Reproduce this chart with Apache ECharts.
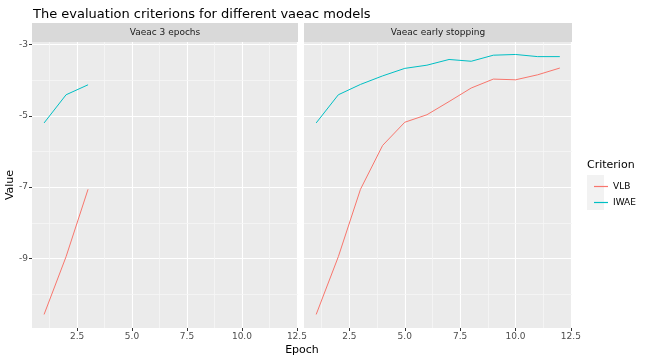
<!DOCTYPE html>
<html><head><meta charset="utf-8">
<script src="https://cdn.jsdelivr.net/npm/echarts@6/dist/echarts.min.js"></script>
<style>html,body{margin:0;padding:0;background:#fff}#c{width:648px;height:360px}</style>
</head><body><div id="c"></div>
<script>
// ---- data ----
const panelNames = ['Vaeac 3 epochs', 'Vaeac early stopping'];
const criteria = ['VLB', 'IWAE'];
const epochs3 = [1, 2, 3];
const vlb3 = [-10.57, -8.95, -7.06];
const iwae3 = [-5.2, -4.41, -4.13];
const epochsES = [1, 2, 3, 4, 5, 6, 7, 8, 9, 10, 11, 12];
const vlbES = [-10.57, -8.95, -7.06, -5.83, -5.18, -4.97, -4.6, -4.22, -3.97, -3.99, -3.85, -3.66];
const iwaeES = [-5.2, -4.41, -4.12, -3.88, -3.67, -3.58, -3.42, -3.47, -3.30, -3.28, -3.34, -3.34];
const xTicks = [2.5, 5.0, 7.5, 10.0, 12.5];
const xMinor = [1.25, 3.75, 6.25, 8.75, 11.25];
const yTicks = [-9, -7, -5, -3];
const yMinor = [-10, -8, -6, -4];
const colors = ['#F8766D', '#00BFC4'];

const FONT = 'DejaVu Sans';
const xRange = [0.45, 12.55];
const yRange = [-10.95, -2.93];
const grids = [
  {left: 32, top: 42, width: 266, height: 286},
  {left: 304, top: 42, width: 268, height: 286}
];
const pair = (xs, ys) => xs.map((x, i) => [x, ys[i]]);

function xAxis(i) {
  return {
    type: 'value', gridIndex: i, min: xRange[0], max: xRange[1],
    axisLine: {show: false},
    axisTick: {show: true, length: 3, lineStyle: {color: '#333', width: 1}, customValues: xTicks},
    axisLabel: {color: '#4D4D4D', fontSize: 9, fontFamily: FONT, margin: 4, customValues: xTicks,
      formatter: v => Number(v).toFixed(1), showMinLabel: true, showMaxLabel: true},
    splitLine: {show: true, lineStyle: {color: '#fff', width: 1.1}}
  };
}
function yAxis(i) {
  return {
    type: 'value', gridIndex: i, min: yRange[0], max: yRange[1],
    axisLine: {show: false},
    axisTick: {show: i === 0, length: 3, lineStyle: {color: '#333', width: 1}, customValues: yTicks},
    axisLabel: {show: i === 0, color: '#4D4D4D', fontSize: 9, fontFamily: FONT, margin: 4, customValues: yTicks},
    splitLine: {show: true, lineStyle: {color: '#fff', width: 1.1}}
  };
}
function minorSeries(i) {
  return {
    type: 'line', xAxisIndex: i, yAxisIndex: i, data: [], z: 1, silent: true,
    markLine: {
      z: 1, zlevel: 0,
      silent: true, symbol: ['none', 'none'], label: {show: false},
      lineStyle: {color: '#F6F6F6', width: 0.8, type: 'solid'},
      emphasis: {disabled: true},
      data: xMinor.map(v => ({xAxis: v})).concat(yMinor.map(v => ({yAxis: v})))
    }
  };
}
function dataSeries(i, name, d, c) {
  return {
    name: name, type: 'line', xAxisIndex: i, yAxisIndex: i, data: d, z: 6,
    symbol: 'none', showSymbol: false, lineStyle: {color: c, width: 1}, itemStyle: {color: c},
    silent: true, animation: false
  };
}

const option = {
  animation: false,
  textStyle: {fontFamily: FONT},
  title: {text: 'The evaluation criterions for different vaeac models', left: 28, top: 3,
    textStyle: {fontFamily: FONT, fontSize: 13, fontWeight: 'normal', color: '#000'}},
  grid: grids.map(g => Object.assign({show: true, backgroundColor: '#EBEBEB', borderWidth: 0}, g)),
  xAxis: [xAxis(0), xAxis(1)],
  yAxis: [yAxis(0), yAxis(1)],
  legend: {
    data: criteria.map((n, i) => ({name: n, icon: 'rect', itemStyle: {color: colors[i]}})),
    orient: 'vertical', left: 589, top: 177, itemWidth: 14, itemHeight: 1.2, itemGap: 7,
    textStyle: {fontFamily: FONT, fontSize: 9, color: '#000'}, selectedMode: false
  },
  graphic: [
    {type: 'rect', shape: {x: 32, y: 23, width: 266, height: 19}, style: {fill: '#D9D9D9'}, silent: true},
    {type: 'rect', shape: {x: 304, y: 23, width: 268, height: 19}, style: {fill: '#D9D9D9'}, silent: true},
    {type: 'text', x: 165, y: 33, style: {text: panelNames[0], fill: '#1A1A1A', font: '9px "DejaVu Sans"', align: 'center', verticalAlign: 'middle'}},
    {type: 'text', x: 438, y: 33, style: {text: panelNames[1], fill: '#1A1A1A', font: '9px "DejaVu Sans"', align: 'center', verticalAlign: 'middle'}},
    {type: 'text', x: 302, y: 350, style: {text: 'Epoch', fill: '#000', font: '11px "DejaVu Sans"', align: 'center', verticalAlign: 'middle'}},
    {type: 'text', x: 10, y: 185, rotation: Math.PI / 2, style: {text: 'Value', fill: '#000', font: '11px "DejaVu Sans"', align: 'center', verticalAlign: 'middle'}},
    {type: 'text', x: 587, y: 165, style: {text: 'Criterion', fill: '#000', font: '11px "DejaVu Sans"', align: 'left', verticalAlign: 'middle'}},
    {type: 'rect', shape: {x: 587, y: 175, width: 17, height: 35}, style: {fill: '#F2F2F2'}, silent: true, z: -1}
  ],
  series: [
    minorSeries(0), minorSeries(1),
    dataSeries(0, criteria[0], pair(epochs3, vlb3), colors[0]),
    dataSeries(0, criteria[1], pair(epochs3, iwae3), colors[1]),
    dataSeries(1, criteria[0], pair(epochsES, vlbES), colors[0]),
    dataSeries(1, criteria[1], pair(epochsES, iwaeES), colors[1])
  ]
};
const chart = echarts.init(document.getElementById('c'), null, {renderer: 'canvas'});
chart.setOption(option);
</script></body></html>
